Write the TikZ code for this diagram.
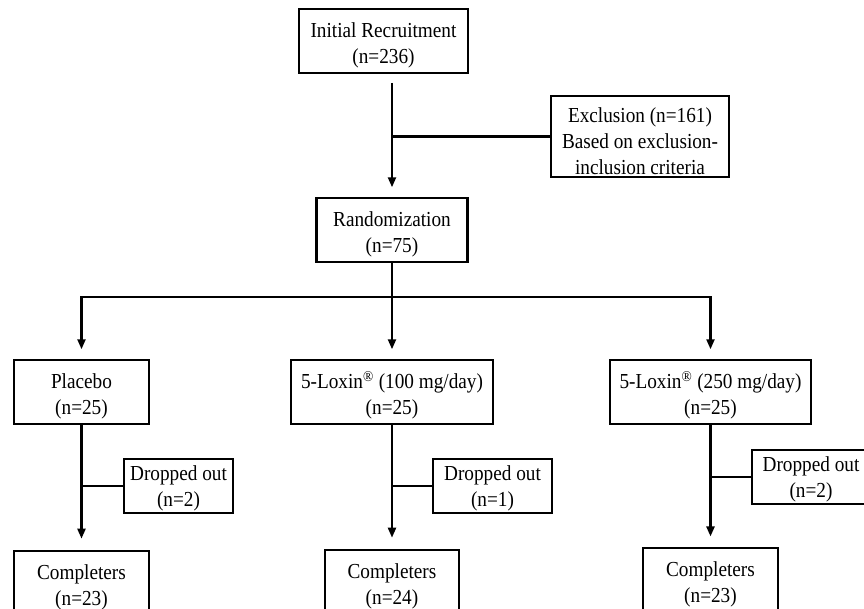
\documentclass[tikz,border=0pt]{standalone}
\usepackage{fontspec}
\setmainfont[FakeStretch=0.9]{Liberation Serif}
\usetikzlibrary{arrows.meta}
\newcommand{\tstrut}{\rule{0pt}{17pt}}
\newcommand{\dstrut}{\rule{0pt}{13.5pt}}
\begin{document}
\begin{tikzpicture}[x=0.025cm,y=-0.025cm,
  box/.style={draw, line width=1.6pt, align=center, inner sep=1pt,
    font=\fontsize{15.2}{18.5}\selectfont, minimum height=1.6cm},
  conn/.style={line width=1.6pt, line join=miter},
  arr/.style={conn, -{Triangle[length=0.25cm,width=0.2cm]}, shorten >=0.24cm}]
\clip (0,0) rectangle (864,609);
\fill[white] (0,0) rectangle (864,609);
\node[box, minimum width=4.225cm] (init) at (383.5,41) {\tstrut Initial Recruitment\\(n=236)};
\node[box, minimum width=4.45cm, minimum height=2.025cm] (excl) at (640,136.5) {\tstrut Exclusion (n=161)\\Based on exclusion-\\inclusion criteria};
\node[box, minimum width=3.775cm] (rand) at (392,230) {\tstrut Randomization\\(n=75)};
\node[box, minimum width=3.375cm] (plac) at (81.5,392) {\tstrut Placebo\\(n=25)};
\node[box, minimum width=5.05cm] (lox1) at (392,392) {\tstrut 5-Loxin\textsuperscript{\textregistered} (100 mg/day)\\(n=25)};
\node[box, minimum width=5.025cm] (lox2) at (710.5,392) {\tstrut 5-Loxin\textsuperscript{\textregistered} (250 mg/day)\\(n=25)};
\node[box, minimum width=2.725cm, minimum height=1.35cm] (drop1) at (178.5,486) {\dstrut Dropped out\\(n=2)};
\node[box, minimum width=2.975cm, minimum height=1.35cm] (drop2) at (492.5,486) {\dstrut Dropped out\\(n=1)};
\node[box, minimum width=2.95cm, minimum height=1.35cm] (drop3) at (811,477) {\dstrut Dropped out\\(n=2)};
\node[box, minimum width=3.375cm] (comp1) at (81.5,583) {\tstrut Completers\\(n=23)};
\node[box, minimum width=3.35cm] (comp2) at (392,582) {\tstrut Completers\\(n=24)};
\node[box, minimum width=3.375cm] (comp3) at (710.5,580) {\tstrut Completers\\(n=23)};
\coordinate (t0) at (392,83);
\coordinate (br) at (392,297);
\draw[arr] (t0) -- (rand.north);
\draw[conn] (excl.west) -- (excl.west -| t0);
\draw[conn] (rand.south) -- (br);
\draw[arr] (br) -| (plac.north);
\draw[arr] (br) -| (lox2.north);
\draw[arr] (br) -- (lox1.north);
\draw[arr, shorten >=0.28cm] (plac.south) -- (comp1.north);
\draw[arr, shorten >=0.28cm] (lox1.south) -- (comp2.north);
\draw[arr, shorten >=0.26cm] (lox2.south) -- (comp3.north);
\draw[conn] (drop1.west) -- (drop1.west -| plac.south);
\draw[conn] (drop2.west) -- (drop2.west -| lox1.south);
\draw[conn] (drop3.west) -- (drop3.west -| lox2.south);
\end{tikzpicture}
\end{document}
